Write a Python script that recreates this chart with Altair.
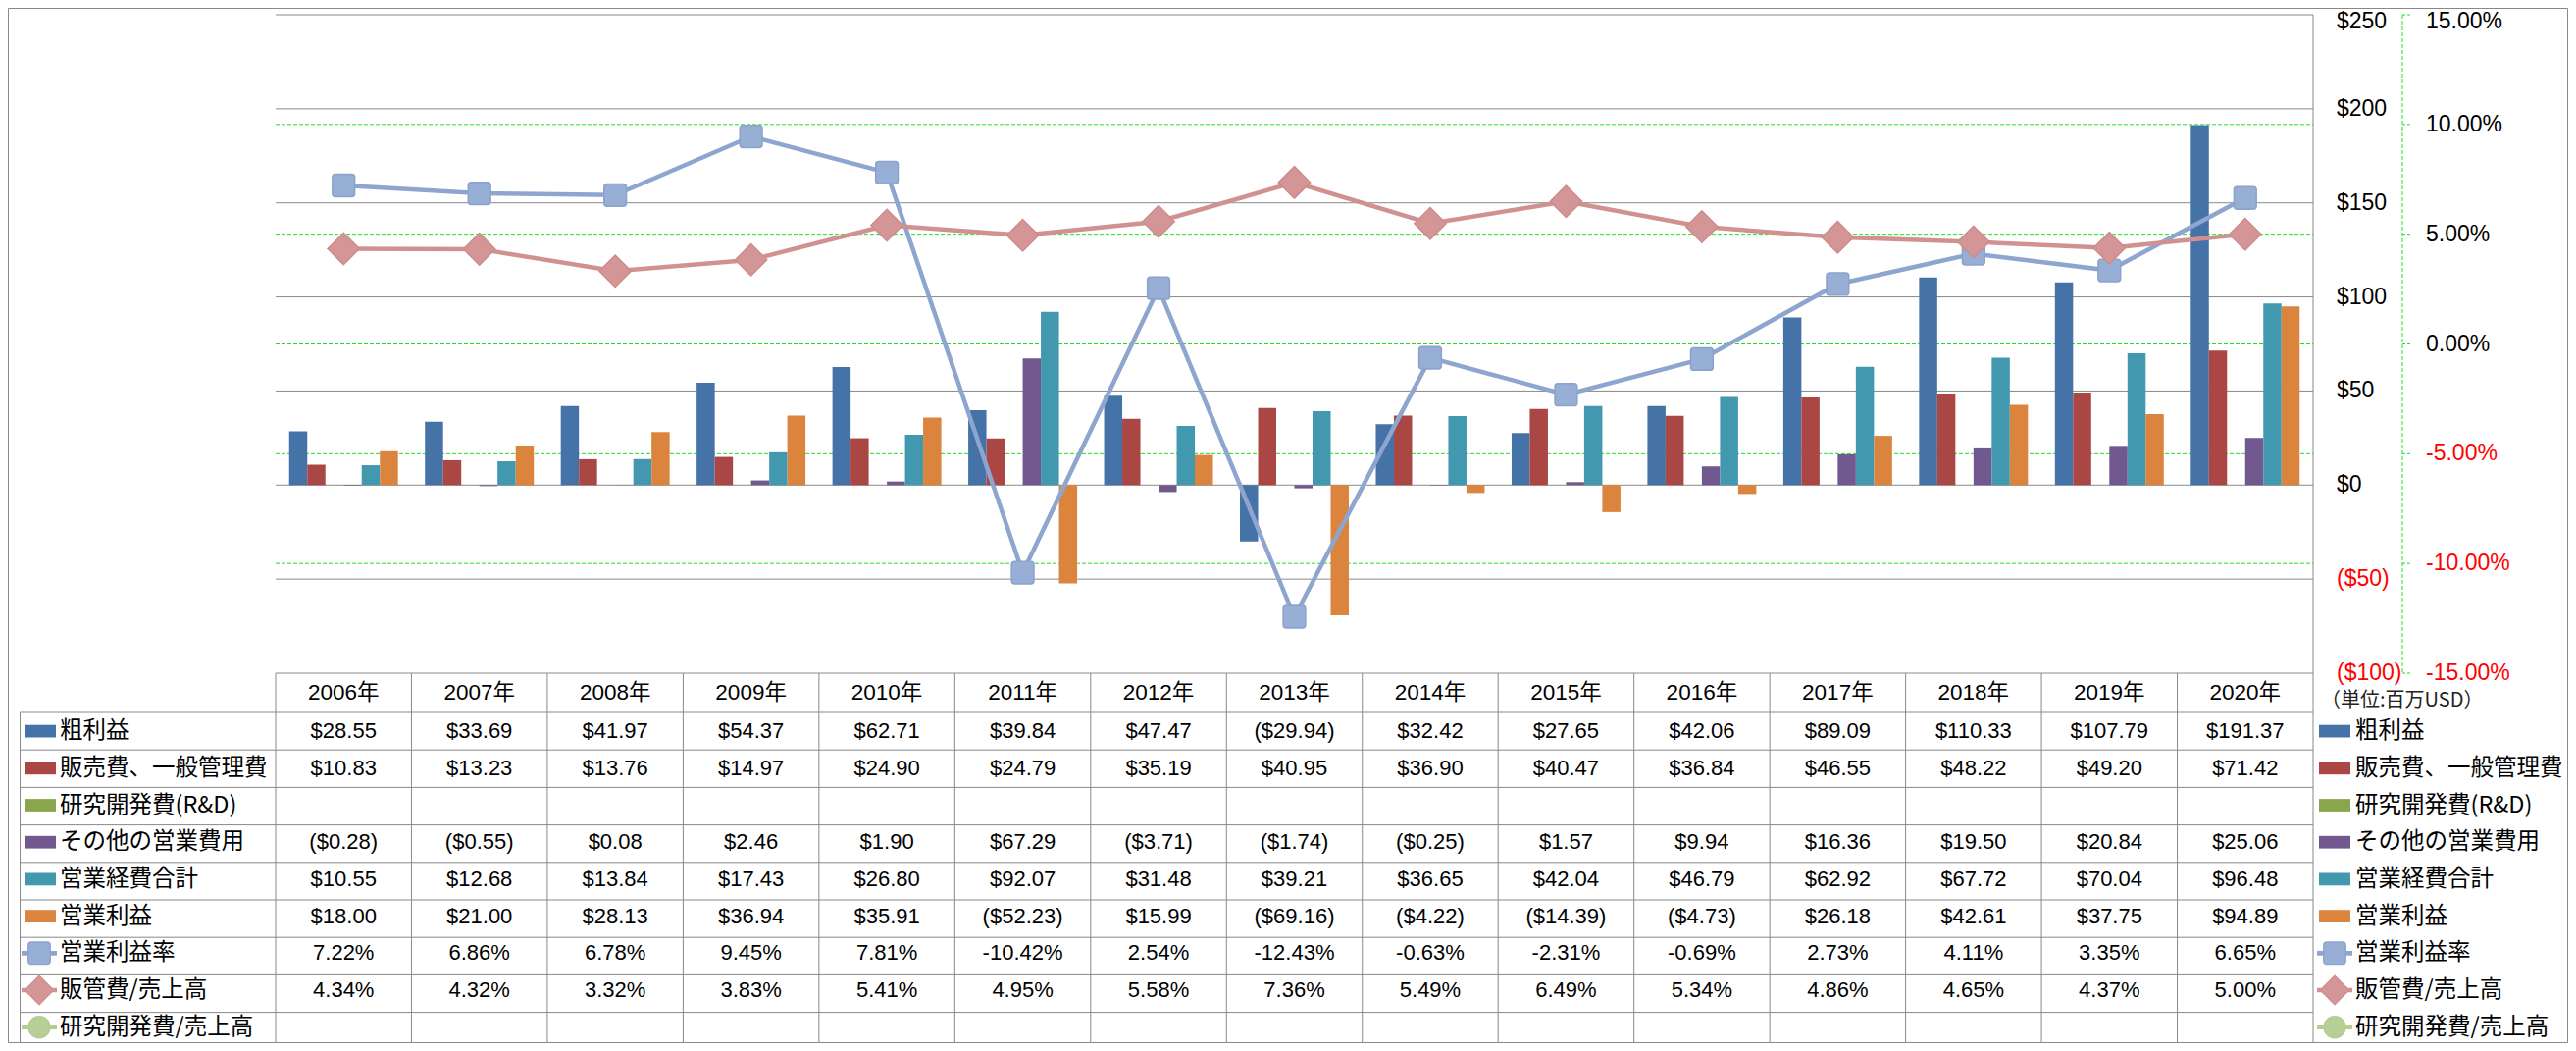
import altair as alt
import pandas as pd

# ---------------- data ----------------
years = ["2006年", "2007年", "2008年", "2009年", "2010年", "2011年", "2012年", "2013年",
         "2014年", "2015年", "2016年", "2017年", "2018年", "2019年", "2020年"]

gross_profit = [28.55, 33.69, 41.97, 54.37, 62.71, 39.84, 47.47, -29.94, 32.42, 27.65, 42.06, 89.09, 110.33, 107.79, 191.37]
sga = [10.83, 13.23, 13.76, 14.97, 24.90, 24.79, 35.19, 40.95, 36.90, 40.47, 36.84, 46.55, 48.22, 49.20, 71.42]
rnd = [None] * 15
other_opex = [-0.28, -0.55, 0.08, 2.46, 1.90, 67.29, -3.71, -1.74, -0.25, 1.57, 9.94, 16.36, 19.50, 20.84, 25.06]
total_opex = [10.55, 12.68, 13.84, 17.43, 26.80, 92.07, 31.48, 39.21, 36.65, 42.04, 46.79, 62.92, 67.72, 70.04, 96.48]
op_income = [18.00, 21.00, 28.13, 36.94, 35.91, -52.23, 15.99, -69.16, -4.22, -14.39, -4.73, 26.18, 42.61, 37.75, 94.89]
op_margin = [7.22, 6.86, 6.78, 9.45, 7.81, -10.42, 2.54, -12.43, -0.63, -2.31, -0.69, 2.73, 4.11, 3.35, 6.65]
sga_ratio = [4.34, 4.32, 3.32, 3.83, 5.41, 4.95, 5.58, 7.36, 5.49, 6.49, 5.34, 4.86, 4.65, 4.37, 5.00]
rnd_ratio = [None] * 15

bar_series = ["粗利益", "販売費、一般管理費", "研究開発費(R&D)", "その他の営業費用", "営業経費合計", "営業利益"]
line_series = ["営業利益率", "販管費/売上高", "研究開発費/売上高"]
bar_colors = ["#4572A7", "#AA4643", "#89A54E", "#71588F", "#4198AF", "#DB843D"]
line_colors = ["#8EA6CF", "#D19191", "#B5CD94"]

usd_ticks = [250, 200, 150, 100, 50, 0, -50, -100]
usd_tick_labels = ["$250", "$200", "$150", "$100", "$50", "$0", "($50)", "($100)"]
pct_ticks = [15, 10, 5, 0, -5, -10, -15]
pct_tick_labels = ["15.00%", "10.00%", "5.00%", "0.00%", "-5.00%", "-10.00%", "-15.00%"]
pct_grid = [10, 5, 0, -5, -10]
unit_label = "（単位:百万USD）"

# ---------------- layout ----------------
W, H = 2610, 1055
OFF = 8


def px(v):
    return v - OFF


PLOT_L, PLOT_R, PLOT_T, PLOT_B = px(281), px(2358), px(15), px(686)
ROW_TOP, ROW_H = px(726), 38.2
TEXT_ROW_H = 37.7
STEP = (PLOT_R - PLOT_L) / 15
PAD_IN = 0.1986
PAD_OUT = PAD_IN / 2
GRAY = "#898989"
GREEN = "#1EE01E"
NUM_FONT = "Liberation Sans, Arial, sans-serif"
JP_FONT = "Noto Sans CJK JP, sans-serif"
HEAD_FONT = "Liberation Sans, Noto Sans CJK JP, sans-serif"

all_series = bar_series + line_series
all_colors = bar_colors + line_colors

x_scale = alt.Scale(type="band", domain=years, range=[PLOT_L, PLOT_R],
                    paddingInner=PAD_IN, paddingOuter=PAD_OUT)
usd_scale = alt.Scale(domain=[-100, 250], range=[PLOT_B, PLOT_T], nice=False, zero=False)
pct_scale = alt.Scale(domain=[-15, 15], range=[PLOT_B, PLOT_T], nice=False, zero=False)
row_scale = alt.Scale(type="point", domain=all_series,
                      range=[ROW_TOP + ROW_H / 2, ROW_TOP + ROW_H / 2 + 8 * TEXT_ROW_H], padding=0)
color_scale = alt.Scale(domain=all_series, range=all_colors)

X = alt.X("year:N", scale=x_scale, axis=None, bandPosition=0.5)

# ---------------- dataframes ----------------
bar_values = [gross_profit, sga, rnd, other_opex, total_opex, op_income]
bar_rows = []
for name, vals in zip(bar_series, bar_values):
    for y, v in zip(years, vals):
        if v is not None:
            bar_rows.append({"year": y, "series": name, "value": v})
bar_df = pd.DataFrame(bar_rows)


def line_df(vals):
    return pd.DataFrame([{"year": y, "pct": v} for y, v in zip(years, vals) if v is not None])


def fmt_usd(v):
    return f"${v:.2f}" if v >= 0 else f"(${-v:.2f})"


def fmt_pct(v):
    return f"{v:.2f}%"


cell_rows = []
for name, vals in zip(all_series, bar_values + [op_margin, sga_ratio, rnd_ratio]):
    for y, v in zip(years, vals):
        if v is None:
            continue
        txt = fmt_pct(v) if name in line_series else fmt_usd(v)
        cell_rows.append({"year": y, "row": name, "text": txt})
cell_df = pd.DataFrame(cell_rows)

year_df = pd.DataFrame({"year": years})
series_df = pd.DataFrame({"series": all_series})
bar_key_df = pd.DataFrame({"series": bar_series})
usd_tick_df = pd.DataFrame({"v": usd_ticks, "label": usd_tick_labels})
pct_tick_df = pd.DataFrame({"v": pct_ticks, "label": pct_tick_labels})
pct_grid_df = pd.DataFrame({"v": pct_grid})
row_line_df = pd.DataFrame({"k": list(range(9))})

layers = []

# frame
layers.append(alt.Chart(year_df.head(1)).mark_rect(fillOpacity=0, stroke=GRAY, strokeWidth=1).encode(
    x=alt.value(0.5), x2=alt.value(W - 0.5), y=alt.value(0.5), y2=alt.value(H - 0.5)))

# gray horizontal gridlines
layers.append(alt.Chart(usd_tick_df).mark_rule(color=GRAY, strokeWidth=1).encode(
    y=alt.Y("v:Q", scale=usd_scale, axis=None), x=alt.value(PLOT_L), x2=alt.value(PLOT_R)))

# green dashed gridlines (secondary axis)
layers.append(alt.Chart(pct_grid_df).mark_rule(color=GREEN, strokeWidth=1, strokeDash=[4, 2]).encode(
    y=alt.Y("v:Q", scale=pct_scale, axis=None), x=alt.value(PLOT_L), x2=alt.value(PLOT_R)))

# secondary axis line + ticks
layers.append(alt.Chart(year_df.head(1)).mark_rule(color=GREEN, strokeWidth=1, strokeDash=[4, 2]).encode(
    x=alt.value(px(2449)), y=alt.value(PLOT_T), y2=alt.value(PLOT_B)))
layers.append(alt.Chart(pct_tick_df).mark_rule(color=GREEN, strokeWidth=1, strokeDash=[3, 2]).encode(
    y=alt.Y("v:Q", scale=pct_scale, axis=None), x=alt.value(px(2449)), x2=alt.value(px(2457))))

# bars
layers.append(alt.Chart(bar_df).mark_bar().encode(
    x=alt.X("year:N", scale=x_scale, axis=None),
    xOffset=alt.XOffset("series:N", scale=alt.Scale(domain=bar_series, paddingInner=0, paddingOuter=0)),
    y=alt.Y("value:Q", scale=usd_scale, axis=None),
    color=alt.Color("series:N", scale=color_scale, legend=None),
))

RSQ = "M-0.72,-1H0.72Q1,-1,1,-0.72V0.72Q1,1,0.72,1H-0.72Q-1,1,-1,0.72V-0.72Q-1,-1,-0.72,-1Z"

# lines + markers
layers.append(alt.Chart(line_df(op_margin)).mark_line(color=line_colors[0], strokeWidth=4.5).encode(
    x=X, y=alt.Y("pct:Q", scale=pct_scale, axis=None)))
layers.append(alt.Chart(line_df(op_margin)).mark_point(
    shape=RSQ, size=520, filled=True, fill="#97AED5", stroke="#8AA2CC", strokeWidth=1.5, opacity=1).encode(
    x=X, y=alt.Y("pct:Q", scale=pct_scale, axis=None)))
layers.append(alt.Chart(line_df(sga_ratio)).mark_line(color=line_colors[1], strokeWidth=4.5).encode(
    x=X, y=alt.Y("pct:Q", scale=pct_scale, axis=None)))
layers.append(alt.Chart(line_df(sga_ratio)).mark_point(
    shape="diamond", size=1050, filled=True, fill="#D39595", stroke="#CE8D8D", strokeWidth=1.5, opacity=1).encode(
    x=X, y=alt.Y("pct:Q", scale=pct_scale, axis=None)))

# plot right border (extends through table)
layers.append(alt.Chart(year_df.head(1)).mark_rule(color=GRAY, strokeWidth=1).encode(
    x=alt.value(PLOT_R), y=alt.value(PLOT_T), y2=alt.value(H)))

# table: column separators
layers.append(alt.Chart(year_df).mark_rule(color=GRAY, strokeWidth=1, xOffset=-STEP * PAD_OUT).encode(
    x=alt.X("year:N", scale=x_scale, axis=None, bandPosition=0), y=alt.value(PLOT_B), y2=alt.value(H)))
# table: left border
layers.append(alt.Chart(year_df.head(1)).mark_rule(color=GRAY, strokeWidth=1).encode(
    x=alt.value(px(20.5)), y=alt.value(ROW_TOP), y2=alt.value(H)))
# table: row lines
layers.append(alt.Chart(row_line_df).mark_rule(color=GRAY, strokeWidth=1).encode(
    y=alt.Y("k:Q", scale=alt.Scale(domain=[0, 9], range=[ROW_TOP, ROW_TOP + 9 * ROW_H], nice=False, zero=False), axis=None),
    x=alt.value(px(20.5)), x2=alt.value(PLOT_R)))

# table header
layers.append(alt.Chart(year_df).mark_text(font=HEAD_FONT, fontSize=22.5, color="black", baseline="middle").encode(
    x=X, y=alt.value(px(706)), text="year:N"))

# table cells
layers.append(alt.Chart(cell_df).mark_text(font=NUM_FONT, fontSize=22, color="black", baseline="middle").encode(
    x=X, y=alt.Y("row:N", scale=row_scale, axis=None), text="text:N"))

# legend keys (left and right)
RECT = "M-1,-0.4H1V0.4H-1Z"
LINEKEY = "M-1,-0.13H1V0.13H-1Z"
for kx, lx, tx in [(px(41), px(40), px(61)), (px(2380), px(2380), px(2401))]:
    layers.append(alt.Chart(bar_key_df).mark_point(shape=RECT, size=1024, filled=True, opacity=1, strokeWidth=0).encode(
        x=alt.value(kx), y=alt.Y("series:N", scale=row_scale, axis=None),
        color=alt.Color("series:N", scale=color_scale, legend=None)))
    for name, col, shape, size, fill in [
        (line_series[0], line_colors[0], RSQ, 500, "#97AED5"),
        (line_series[1], line_colors[1], "diamond", 850, "#D39595"),
        (line_series[2], line_colors[2], "circle", 480, "#B7CF97"),
    ]:
        kdf = pd.DataFrame({"series": [name]})
        layers.append(alt.Chart(kdf).mark_point(shape=LINEKEY, size=1296, filled=True, opacity=1,
                                                 color=col, strokeWidth=0).encode(
            x=alt.value(lx), y=alt.Y("series:N", scale=row_scale, axis=None)))
        layers.append(alt.Chart(kdf).mark_point(shape=shape, size=size, filled=True, opacity=1,
                                                 fill=fill, stroke=col, strokeWidth=1.5).encode(
            x=alt.value(lx), y=alt.Y("series:N", scale=row_scale, axis=None)))
    layers.append(alt.Chart(series_df).mark_text(font=JP_FONT, fontSize=23.5, color="black", align="left",
                                                 baseline="middle").encode(
        x=alt.value(tx), y=alt.Y("series:N", scale=row_scale, axis=None), text="series:N"))

# axis labels (top label nudged so it stays inside the canvas)
for df, scale, xpos, top in [(usd_tick_df, usd_scale, px(2382), 250), (pct_tick_df, pct_scale, px(2473), 15)]:
    for flt, dy in [(alt.datum.v == top, 7), (alt.datum.v != top, 0)]:
        layers.append(alt.Chart(df).transform_filter(flt).mark_text(
            font=NUM_FONT, fontSize=23, align="left", baseline="middle", dy=dy).encode(
            x=alt.value(xpos), y=alt.Y("v:Q", scale=scale, axis=None), text="label:N",
            color=alt.condition(alt.datum.v < 0, alt.value("#FF0000"), alt.value("black"))))

# unit label
layers.append(alt.Chart(pd.DataFrame({"t": [unit_label]})).mark_text(
    font=JP_FONT, fontSize=20, align="left", baseline="middle", color="#222222").encode(
    x=alt.value(px(2366)), y=alt.value(px(714)), text="t:N"))

chart = alt.layer(*layers).resolve_scale(y="independent").properties(
    width=W, height=H, padding=0, autosize=alt.AutoSizeParams(type="none"),
    background="white",
).configure_view(stroke=None)

chart.save("out.html", embed_options={"renderer": "svg", "actions": False})
